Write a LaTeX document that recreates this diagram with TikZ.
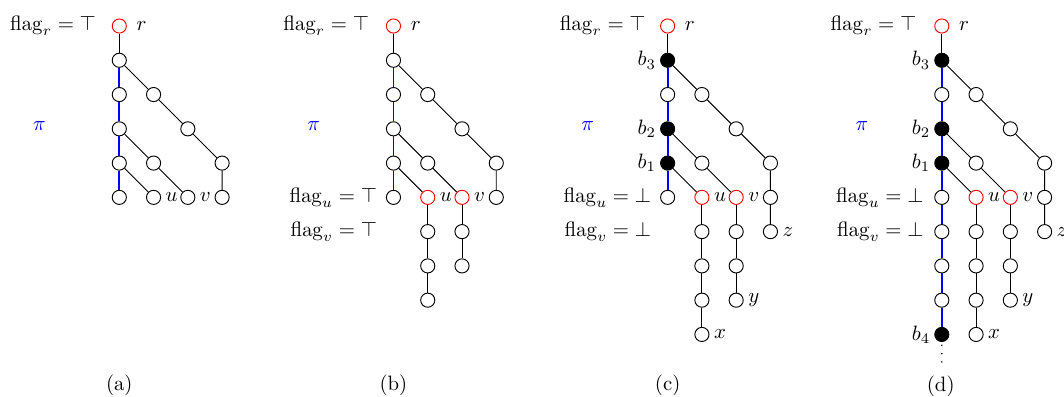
\documentclass[tikz,border=0pt]{standalone}
\usepackage{amsmath}
\tikzset{
  vtx/.style={circle,draw=black,inner sep=0pt,minimum size=6.8pt,line width=0.45pt},
  rvtx/.style={vtx,draw=red},
  bvtx/.style={vtx,fill=black},
  edg/.style={line width=0.45pt},
  pathedg/.style={blue,line width=0.9pt},
  pilab/.style={blue},
  flagtext/.style={anchor=east,inner sep=0pt},
  caplab/.style={inner sep=0pt},
  lr/.style={label={[inner sep=1pt,label distance=1pt]right:$#1$}},
  rootlab/.style={label={[inner sep=1pt,label distance=3.5pt]right:$#1$}},
  ll/.style={label={[inner sep=1pt,label distance=0.8pt]left:$#1$}},
  vdotline/.style={line width=0.8pt,line cap=round,dash pattern=on 0pt off 4pt,dash phase=2.4pt}
}
\begin{document}
\begin{tikzpicture}[x=16.48pt,y=-16.48pt]
\useasboundingbox (-3.481,-0.759) rectangle (27.566,10.797);

% ---------------- (a) ----------------
\begin{scope}[shift={(0,0)}]
\node[flagtext] (a-fr) at (-0.67,0) {$\mathrm{flag}_r = \top$};
\node[pilab] (a-pi) at (-2.33,2.92) {$\pi$};
\node[rvtx,rootlab=r] (a-r) at (0,0) {};
\node[vtx] (a-A1) at (0,1) {};
\node[vtx] (a-A2) at (0,2) {};
\node[vtx] (a-B2) at (1,2) {};
\node[vtx] (a-A3) at (0,3) {};
\node[vtx] (a-C3) at (2,3) {};
\node[vtx] (a-A4) at (0,4) {};
\node[vtx] (a-B4) at (1,4) {};
\node[vtx] (a-D4) at (3,4) {};
\node[vtx] (a-A5) at (0,5) {};
\node[vtx,lr=u] (a-B5) at (1,5) {};
\node[vtx,lr=v] (a-C5) at (2,5) {};
\node[vtx] (a-D5) at (3,5) {};
\draw[edg] (a-r) -- (a-A1);
\draw[pathedg] (a-A1) -- (a-A2) -- (a-A3) -- (a-A4) -- (a-A5);
\draw[edg] (a-A1) -- (a-B2) -- (a-C3) -- (a-D4) -- (a-D5);
\draw[edg] (a-A3) -- (a-B4) -- (a-C5);
\draw[edg] (a-A4) -- (a-B5);
\node[caplab] (a-cap) at (0,10.48) {(a)};
\end{scope}

% ---------------- (b) ----------------
\begin{scope}[shift={(8,0)}]
\node[flagtext] (b-fr) at (-0.7,0) {$\mathrm{flag}_r = \top$};
\node[flagtext] (b-fu) at (-0.47,5) {$\mathrm{flag}_u = \top$};
\node[flagtext] (b-fv) at (-0.47,6) {$\mathrm{flag}_v = \top$};
\node[pilab] (b-pi) at (-2.33,2.92) {$\pi$};
\node[rvtx,rootlab=r] (b-r) at (0,0) {};
\node[vtx] (b-A1) at (0,1) {};
\node[vtx] (b-A2) at (0,2) {};
\node[vtx] (b-B2) at (1,2) {};
\node[vtx] (b-A3) at (0,3) {};
\node[vtx] (b-C3) at (2,3) {};
\node[vtx] (b-A4) at (0,4) {};
\node[vtx] (b-B4) at (1,4) {};
\node[vtx] (b-D4) at (3,4) {};
\node[vtx] (b-A5) at (0,5) {};
\node[rvtx,lr=u] (b-B5) at (1,5) {};
\node[rvtx,lr=v] (b-C5) at (2,5) {};
\node[vtx] (b-D5) at (3,5) {};
\node[vtx] (b-B6) at (1,6) {};
\node[vtx] (b-B7) at (1,7) {};
\node[vtx] (b-B8) at (1,8) {};
\node[vtx] (b-C6) at (2,6) {};
\node[vtx] (b-C7) at (2,7) {};
\draw[edg] (b-r) -- (b-A1);
\draw[pathedg] (b-A1) -- (b-A2) -- (b-A3) -- (b-A4) -- (b-A5);
\draw[edg] (b-A1) -- (b-B2) -- (b-C3) -- (b-D4) -- (b-D5);
\draw[edg] (b-A3) -- (b-B4) -- (b-C5);
\draw[edg] (b-A4) -- (b-B5);
\draw[edg] (b-B5) -- (b-B6) -- (b-B7) -- (b-B8);
\draw[edg] (b-C5) -- (b-C6) -- (b-C7);
\node[caplab] (b-cap) at (0,10.48) {(b)};
\end{scope}

% ---------------- (c) ----------------
\begin{scope}[shift={(16,0)}]
\node[flagtext] (c-fr) at (-0.63,0) {$\mathrm{flag}_r = \top$};
\node[flagtext] (c-fu) at (-0.47,5) {$\mathrm{flag}_u = \bot$};
\node[flagtext] (c-fv) at (-0.47,6) {$\mathrm{flag}_v = \bot$};
\node[pilab] (c-pi) at (-2.33,2.92) {$\pi$};
\node[rvtx,rootlab=r] (c-r) at (0,0) {};
\node[bvtx,ll=b_3] (c-A1) at (0,1) {};
\node[vtx] (c-A2) at (0,2) {};
\node[vtx] (c-B2) at (1,2) {};
\node[bvtx,ll=b_2] (c-A3) at (0,3) {};
\node[vtx] (c-C3) at (2,3) {};
\node[bvtx,ll=b_1] (c-A4) at (0,4) {};
\node[vtx] (c-B4) at (1,4) {};
\node[vtx] (c-D4) at (3,4) {};
\node[vtx] (c-A5) at (0,5) {};
\node[rvtx,lr=u] (c-B5) at (1,5) {};
\node[rvtx,lr=v] (c-C5) at (2,5) {};
\node[vtx] (c-D5) at (3,5) {};
\node[vtx] (c-B6) at (1,6) {};
\node[vtx] (c-B7) at (1,7) {};
\node[vtx] (c-B8) at (1,8) {};
\node[vtx,lr=x] (c-B9) at (1,9) {};
\node[vtx] (c-C6) at (2,6) {};
\node[vtx] (c-C7) at (2,7) {};
\node[vtx,lr=y] (c-C8) at (2,8) {};
\node[vtx,lr=z] (c-D6) at (3,6) {};
\draw[edg] (c-r) -- (c-A1);
\draw[pathedg] (c-A1) -- (c-A2) -- (c-A3) -- (c-A4) -- (c-A5);
\draw[edg] (c-A1) -- (c-B2) -- (c-C3) -- (c-D4) -- (c-D5) -- (c-D6);
\draw[edg] (c-A3) -- (c-B4) -- (c-C5);
\draw[edg] (c-A4) -- (c-B5);
\draw[edg] (c-B5) -- (c-B6) -- (c-B7) -- (c-B8) -- (c-B9);
\draw[edg] (c-C5) -- (c-C6) -- (c-C7) -- (c-C8);
\node[caplab] (c-cap) at (0,10.48) {(c)};
\end{scope}

% ---------------- (d) ----------------
\begin{scope}[shift={(24,0)}]
\node[flagtext] (d-fr) at (-0.73,0) {$\mathrm{flag}_r = \top$};
\node[flagtext] (d-fu) at (-0.52,5) {$\mathrm{flag}_u = \bot$};
\node[flagtext] (d-fv) at (-0.52,6) {$\mathrm{flag}_v = \bot$};
\node[pilab] (d-pi) at (-2.33,2.92) {$\pi$};
\node[rvtx,rootlab=r] (d-r) at (0,0) {};
\node[bvtx,ll=b_3] (d-A1) at (0,1) {};
\node[vtx] (d-A2) at (0,2) {};
\node[vtx] (d-B2) at (1,2) {};
\node[bvtx,ll=b_2] (d-A3) at (0,3) {};
\node[vtx] (d-C3) at (2,3) {};
\node[bvtx,ll=b_1] (d-A4) at (0,4) {};
\node[vtx] (d-B4) at (1,4) {};
\node[vtx] (d-D4) at (3,4) {};
\node[vtx] (d-A5) at (0,5) {};
\node[vtx] (d-A6) at (0,6) {};
\node[vtx] (d-A7) at (0,7) {};
\node[vtx] (d-A8) at (0,8) {};
\node[bvtx,ll=b_4] (d-A9) at (0,9) {};
\node[rvtx,lr=u] (d-B5) at (1,5) {};
\node[rvtx,lr=v] (d-C5) at (2,5) {};
\node[vtx] (d-D5) at (3,5) {};
\node[vtx] (d-B6) at (1,6) {};
\node[vtx] (d-B7) at (1,7) {};
\node[vtx] (d-B8) at (1,8) {};
\node[vtx,lr=x] (d-B9) at (1,9) {};
\node[vtx] (d-C6) at (2,6) {};
\node[vtx] (d-C7) at (2,7) {};
\node[vtx,lr=y] (d-C8) at (2,8) {};
\node[vtx,lr=z] (d-D6) at (3,6) {};
\coordinate (d-end) at (0,9.83);
\draw[edg] (d-r) -- (d-A1);
\draw[pathedg] (d-A1) -- (d-A2) -- (d-A3) -- (d-A4) -- (d-A5) -- (d-A6) -- (d-A7) -- (d-A8) -- (d-A9);
\draw[vdotline] (d-A9) -- (d-end);
\draw[edg] (d-A1) -- (d-B2) -- (d-C3) -- (d-D4) -- (d-D5) -- (d-D6);
\draw[edg] (d-A3) -- (d-B4) -- (d-C5);
\draw[edg] (d-A4) -- (d-B5);
\draw[edg] (d-B5) -- (d-B6) -- (d-B7) -- (d-B8) -- (d-B9);
\draw[edg] (d-C5) -- (d-C6) -- (d-C7) -- (d-C8);
\node[caplab] (d-cap) at (-0.03,10.52) {(d)};
\end{scope}
\end{tikzpicture}
\end{document}
